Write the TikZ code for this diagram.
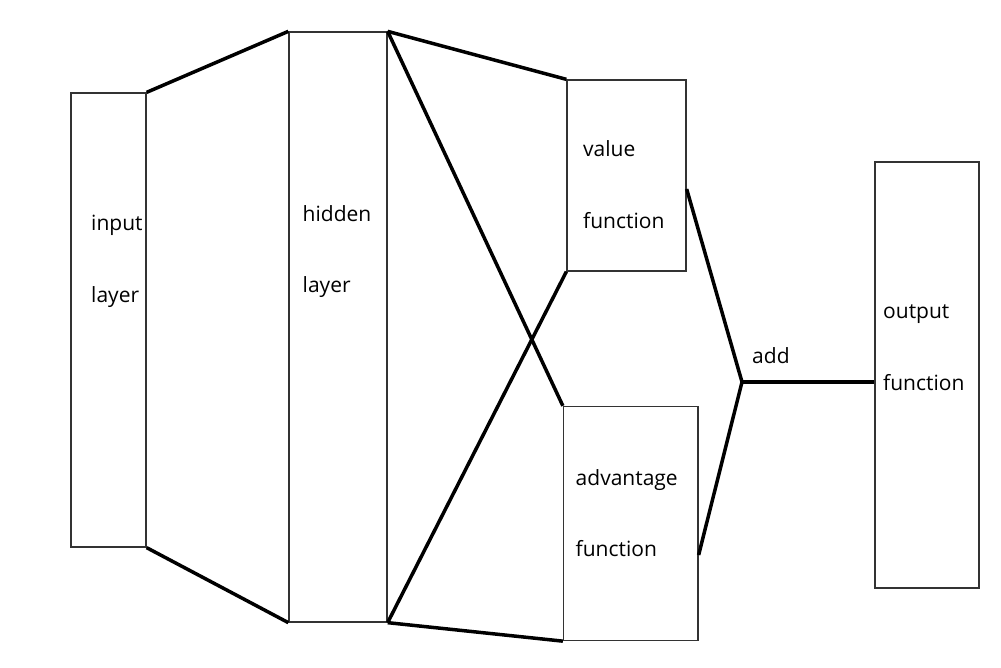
\documentclass[tikz,border=0pt]{standalone}
\usepackage{fontspec}
\setmainfont{Open Sans}
\begin{document}
\begin{tikzpicture}
	[
	x=1pt, y=-1pt, font=\fontsize{21}{25}\selectfont,
	kasten/.style={draw=black!80, line width=1.3pt, rectangle, inner sep=0pt},
	schrift/.style={anchor=base west, inner sep=0pt},
	verbindung/.style={line width=3.5pt}
	%Voreinstellungen
	]
	
	%Rahmen des Bildes
	\useasboundingbox (0,0) rectangle (1001,668);
	
	%Kästen
	\node [kasten, minimum width=75, minimum height=454] (input) at (108.5,320) {};
	\node [kasten, minimum width=98, minimum height=590] (hidden) at (338,327) {};
	\node [kasten, minimum width=119, minimum height=191] (value) at (626.5,175.5) {};
	\node [kasten, minimum width=134.5, minimum height=234] (advantage) at (630.75,523.5) {};
	\node [kasten, minimum width=104, minimum height=426] (output) at (927,375) {};
	
	%Beschriftung
	\node [schrift] (input1) at (91,231) {input};
	\node [schrift] (input2) at (91,302) {layer};
	\node [schrift] (hidden1) at (302.5,221.5) {hidden};
	\node [schrift] (hidden2) at (302.5,293) {layer};
	\node [schrift] (value1) at (583,157) {value};
	\node [schrift] (value2) at (583,229) {function};
	\node [schrift] (advantage1) at (575.5,485.5) {advantage};
	\node [schrift] (advantage2) at (575.5,556.5) {function};
	\node [schrift] (output1) at (883,319) {output};
	\node [schrift] (output2) at (883,390) {function};
	\node [schrift] (addtext) at (752,363) {add};
	
	%Verbindungen
	\coordinate (add) at (742,382);
	\coordinate (valueout) at (value.east |- 0,189);
	\coordinate (advantageout) at (advantage.east |- 0,555);
	\draw [verbindung] (input.north east) -- (hidden.north west);
	\draw [verbindung] (input.south east) -- (hidden.south west);
	\draw [verbindung] (hidden.north east) -- (value.north west);
	\draw [verbindung] (hidden.north east) -- (advantage.north west);
	\draw [verbindung] (hidden.south east) -- (value.south west);
	\draw [verbindung] (hidden.south east) -- (advantage.south west);
	\draw [verbindung] (valueout) -- (add) -- (advantageout);
	\draw [verbindung] (add) -- (add -| output.west);
\end{tikzpicture}
\end{document}
